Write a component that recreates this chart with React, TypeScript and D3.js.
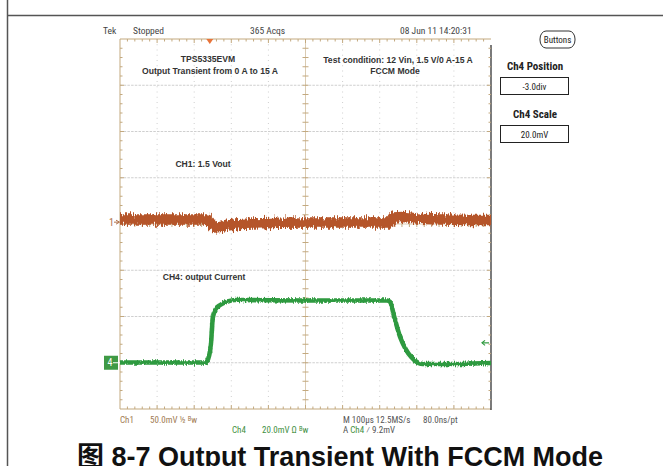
import React from "react";
import * as d3 from "d3";

// ---- data ----
const timeDivs = [0, 100, 200, 300, 400, 500, 600, 700, 800, 900, 1000]; // µs, 100 µs/div
const voltDivs = [-4, -3, -2, -1, 0, 1, 2, 3, 4];

// CH1: 1.5 Vout (AC view), centre of the noisy band, in divisions
const ch1Times = [0, 120, 235, 255, 270, 300, 360, 500, 700, 728, 738, 760, 800, 870, 1000];
const ch1Divs = [0.097, 0.097, 0.097, -0.076, -0.065, -0.022, 0.011, 0.032, 0.032, 0.032, 0.141, 0.151, 0.119, 0.097, 0.086];

// CH4: output current, in divisions
const ch4Times = [0, 230, 235, 245, 250, 258, 270, 290, 310, 500, 720, 728, 740, 755, 770, 785, 800, 815, 900, 950, 1000];
const ch4Divs = [-2.995, -2.995, -2.962, -2.616, -2.032, -1.838, -1.751, -1.676, -1.643, -1.654, -1.654, -1.686, -2.032, -2.443, -2.703, -2.876, -2.984, -3.027, -3.027, -3.016, -3.005];

const triggerTime = 242;
const ch1Marker = 0.04;
const ch4Marker = -3.0;
const trigLevel = -2.57;

const headerTexts = ["Tek", "Stopped", "365 Acqs", "08 Jun 11 14:20:31"];
const panelTitles = ["Ch4 Position", "Ch4 Scale"];
const panelValues = ["-3.0div", "20.0mV"];

const NARROW = "'Liberation Sans Narrow', 'Arial Narrow', 'Roboto Condensed', sans-serif";
const BOLD = "'Liberation Sans', Arial, sans-serif";
const TAN = "#c3a97f";
const ORANGE = "#b5552a";
const GREEN = "#2f9a3f";
const GRID = "#cfcfcf";

export default function App() {
  const x0 = 120, x1 = 491, y0 = 39, y1 = 409;
  const x = d3.scaleLinear().domain([0, 1000]).range([x0, x1]);
  const y = d3.scaleLinear().domain([-4, 4]).range([y1, y0]);

  const minorT = d3.range(0, 1000.001, 20);
  const minorV = d3.range(-4, 4.001, 0.2);

  const line = d3
    .line<[number, number]>()
    .x((d) => x(d[0]))
    .y((d) => y(d[1]))
    .curve(d3.curveMonotoneX);

  const ch1Path = line(ch1Times.map((t, i) => [t, ch1Divs[i]]) as [number, number][]) || "";
  const ch4Path = line(ch4Times.map((t, i) => [t, ch4Divs[i]]) as [number, number][]) || "";

  const isMajorT = (t: number) => Math.abs(t / 100 - Math.round(t / 100)) < 1e-6;
  const isMajorV = (v: number) => Math.abs(v - Math.round(v)) < 1e-6;

  const ticks: JSX.Element[] = [];
  minorT.forEach((t, i) => {
    if (t === 0 || t === 1000) return;
    const len = isMajorT(t) ? 4 : 2.5;
    ticks.push(<line key={"tt" + i} x1={x(t)} x2={x(t)} y1={y0} y2={y0 + len} stroke={TAN} strokeWidth={1} />);
    ticks.push(<line key={"tb" + i} x1={x(t)} x2={x(t)} y1={y1} y2={y1 - len} stroke={TAN} strokeWidth={1} />);
    ticks.push(<line key={"tc" + i} x1={x(t)} x2={x(t)} y1={y(0) - 3} y2={y(0) + 3} stroke={TAN} strokeWidth={1} />);
  });
  minorV.forEach((v, i) => {
    if (i === 0 || i === minorV.length - 1) return;
    const len = isMajorV(v) ? 4 : 2.5;
    ticks.push(<line key={"vl" + i} x1={x0} x2={x0 + len} y1={y(v)} y2={y(v)} stroke={TAN} strokeWidth={1} />);
    ticks.push(<line key={"vr" + i} x1={x1} x2={x1 - len} y1={y(v)} y2={y(v)} stroke={TAN} strokeWidth={1} />);
    ticks.push(<line key={"vc" + i} x1={x(500) - 3} x2={x(500) + 3} y1={y(v)} y2={y(v)} stroke={TAN} strokeWidth={1} />);
  });

  return (
    <svg width={663} height={466} style={{ position: "absolute", left: 0, top: 0, background: "#fff" }}>
      <defs>
        <filter id="fuzzA" x="-2%" y="-200%" width="104%" height="500%">
          <feTurbulence type="fractalNoise" baseFrequency="1.1 0.12" numOctaves="2" seed="4" result="n" />
          <feColorMatrix in="n" type="matrix" values="0 0 0 0 0.5  0 1 0 0 0  0 0 0 0 0  0 0 0 0 1" result="m" />
          <feDisplacementMap in="SourceGraphic" in2="m" scale="10" xChannelSelector="R" yChannelSelector="G" />
        </filter>
        <filter id="fuzzB" x="-2%" y="-50%" width="104%" height="200%">
          <feTurbulence type="fractalNoise" baseFrequency="1.1 0.2" numOctaves="2" seed="7" result="n" />
          <feColorMatrix in="n" type="matrix" values="0 0 0 0 0.5  0 1 0 0 0  0 0 0 0 0  0 0 0 0 1" result="m" />
          <feDisplacementMap in="SourceGraphic" in2="m" scale="4.5" xChannelSelector="R" yChannelSelector="G" />
        </filter>
      </defs>

      {/* page frame */}
      <line x1={7.5} x2={7.5} y1={0} y2={466} stroke="#555" strokeWidth={1.5} />
      <line x1={7} x2={663} y1={15.5} y2={15.5} stroke="#555" strokeWidth={1.5} />

      {/* header */}
      <g fontFamily={NARROW} fontSize={9.5} fill="#444">
        <text x={103} y={34}>{headerTexts[0]}</text>
        <text x={133} y={34}>{headerTexts[1]}</text>
        <text x={250} y={34}>{headerTexts[2]}</text>
        <text x={400} y={34}>{headerTexts[3]}</text>
      </g>

      {/* grid */}
      {timeDivs.filter((t) => t > 0 && t < 1000 && t !== 500).map((t) => (
        <line key={"gx" + t} x1={x(t)} x2={x(t)} y1={y0} y2={y1} stroke={GRID} strokeWidth={1} strokeDasharray="1 4.25" />
      ))}
      {voltDivs.filter((v) => v > -4 && v < 4 && v !== 0).map((v) => (
        <line key={"gy" + v} x1={x0} x2={x1} y1={y(v)} y2={y(v)} stroke={GRID} strokeWidth={1} strokeDasharray="2.5 1.2" />
      ))}
      <line x1={x(500)} x2={x(500)} y1={y0} y2={y1} stroke={TAN} strokeWidth={1} opacity={0.6} />
      <line x1={x0} x2={x1} y1={y(0)} y2={y(0)} stroke={TAN} strokeWidth={1} opacity={0.6} />

      {/* frame */}
      <line x1={x0} x2={x1} y1={y0} y2={y0} stroke={TAN} strokeWidth={1} />
      <line x1={x0} x2={x1} y1={y1} y2={y1} stroke={TAN} strokeWidth={1} />
      <line x1={x0} x2={x0} y1={y0} y2={y1} stroke={TAN} strokeWidth={1} />
      <line x1={x1} x2={x1} y1={y0 + 6} y2={y1 + 1} stroke="#333" strokeWidth={1.3} />
      {ticks}

      {/* trigger position marker */}
      <path d={`M${x(triggerTime) - 3.5},${y0} L${x(triggerTime) + 3.5},${y0} L${x(triggerTime)},${y0 + 5} Z`} fill="#e8743a" />

      {/* annotations */}
      <g fontFamily={BOLD} fontWeight="bold" fontSize={8.6} fill="#333" textAnchor="middle">
        <text x={208} y={62}>TPS5335EVM</text>
        <text x={210} y={74}>Output Transient from 0 A to 15 A</text>
        <text x={398} y={63}>Test condition: 12 Vin, 1.5 V/0 A-15 A</text>
        <text x={395} y={74}>FCCM Mode</text>
        <text x={203} y={167}>CH1: 1.5 Vout</text>
        <text x={204} y={280}>CH4: output Current</text>
      </g>

      {/* traces */}
      <path d={ch1Path} fill="none" stroke={ORANGE} strokeWidth={10.5} strokeLinejoin="round" filter="url(#fuzzA)" />
      <path d={ch4Path} fill="none" stroke={GREEN} strokeWidth={4.6} strokeLinejoin="round" filter="url(#fuzzB)" />

      {/* channel markers */}
      <text x={114} y={y(ch1Marker) + 3.5} fontFamily={NARROW} fontSize={10} fill="#b0704a" textAnchor="end">1</text>
      <line x1={114} x2={119} y1={y(ch1Marker)} y2={y(ch1Marker)} stroke="#b0704a" strokeWidth={1} />
      <path d={`M116,${y(ch1Marker) - 2} L119.5,${y(ch1Marker)} L116,${y(ch1Marker) + 2}`} fill="none" stroke="#b0704a" strokeWidth={1} />

      <rect x={104} y={y(ch4Marker) - 7} width={14} height={14} fill="#3f9a45" />
      <text x={110} y={y(ch4Marker) + 3.5} fontFamily={NARROW} fontSize={10} fill="#fff" textAnchor="middle">4</text>
      <line x1={113} x2={120} y1={y(ch4Marker)} y2={y(ch4Marker)} stroke="#fff" strokeWidth={1} />

      <line x1={482} x2={489} y1={y(trigLevel)} y2={y(trigLevel)} stroke={GREEN} strokeWidth={1.2} />
      <path d={`M485,${y(trigLevel) - 2.5} L482,${y(trigLevel)} L485,${y(trigLevel) + 2.5}`} fill="none" stroke={GREEN} strokeWidth={1.2} />

      {/* right panel */}
      <rect x={540} y={31} width={35} height={17} rx={6} ry={8} fill="#fff" stroke="#333" strokeWidth={1} />
      <text x={557.5} y={42.5} fontFamily={NARROW} fontSize={9} fill="#222" textAnchor="middle">Buttons</text>
      {panelTitles.map((t, i) => (
        <g key={t}>
          <text x={535} y={70 + i * 48} fontFamily={NARROW} fontWeight="bold" fontSize={11} fill="#222" textAnchor="middle">{t}</text>
          <rect x={500.5} y={77.5 + i * 48} width={68} height={17} fill="#fff" stroke="#222" strokeWidth={1} />
          <text x={534.5} y={89.5 + i * 48} fontFamily={NARROW} fontSize={9} fill="#222" textAnchor="middle">{panelValues[i]}</text>
        </g>
      ))}

      {/* bottom readouts */}
      <g fontFamily={NARROW} fontSize={9}>
        <text x={120} y={423} fill="#a07a52">Ch1</text>
        <text x={150} y={423} fill="#a07a52">50.0mV <tspan>½</tspan> <tspan fontSize={6.5} dy={-2}>B</tspan><tspan dy={2}>w</tspan></text>
        <text x={232} y={433} fill="#3f8f3f">Ch4</text>
        <text x={262} y={433} fill="#3f8f3f">20.0mV Ω <tspan fontSize={6.5} dy={-2}>B</tspan><tspan dy={2}>w</tspan></text>
        <text x={343} y={423} fill="#555">M 100µs 12.5MS/s</text>
        <text x={423} y={423} fill="#555">80.0ns/pt</text>
        <text x={343} y={433} fill="#555">A <tspan fill="#3f8f3f">Ch4</tspan> ⁄ 9.2mV</text>
      </g>

      {/* caption */}
      <text x={340} y={466} fontFamily={`${BOLD}, 'Noto Sans CJK SC'`} fontWeight="bold" fontSize={27} fill="#111" textAnchor="middle">
        图 8-7  Output Transient With FCCM Mode
      </text>
    </svg>
  );
}
